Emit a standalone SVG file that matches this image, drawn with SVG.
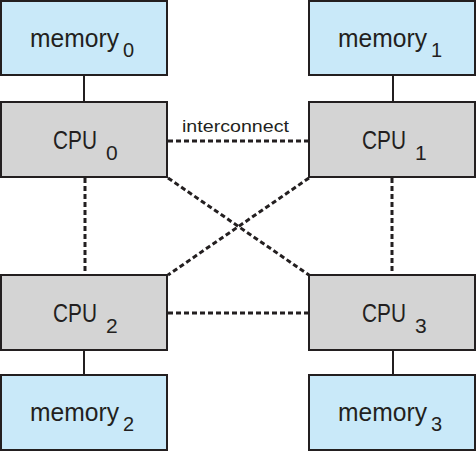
<svg xmlns="http://www.w3.org/2000/svg" width="476" height="451" viewBox="0 0 476 451">
<style>
.mem{fill:#c9e9f9;stroke:#231f20;stroke-width:2}
.cpu{fill:#d4d4d4;stroke:#231f20;stroke-width:2}
.lbl{font-family:"Liberation Sans",Arial,sans-serif;fill:#231f20}
.solid{stroke:#231f20;stroke-width:2;fill:none}
.dash{stroke:#231f20;stroke-width:3;stroke-dasharray:5 3;fill:none}
</style>
<rect width="476" height="451" fill="#ffffff"/>
<g id="connectors">
<line class="solid" x1="84" y1="75" x2="84" y2="102"/>
<line class="solid" x1="393" y1="75" x2="393" y2="102"/>
<line class="solid" x1="84" y1="350" x2="84" y2="375"/>
<line class="solid" x1="393" y1="350" x2="393" y2="375"/>
<line class="dash" x1="168" y1="141" x2="309" y2="141"/>
<line class="dash" x1="168" y1="313" x2="309" y2="313"/>
<line class="dash" x1="85" y1="178" x2="85" y2="275"/>
<line class="dash" x1="392" y1="178" x2="392" y2="275"/>
<line class="dash" x1="168" y1="178" x2="309" y2="275"/>
<line class="dash" x1="309" y1="178" x2="168" y2="275"/>
<text class="lbl" x="182" y="132" font-size="17" textLength="107" lengthAdjust="spacingAndGlyphs">interconnect</text>
</g>
<g id="memory0">
<rect class="mem" x="1" y="1" width="166" height="74"/>
<text class="lbl" x="30" y="47" font-size="25" textLength="89" lengthAdjust="spacingAndGlyphs">memory</text><text class="lbl" x="123" y="57" font-size="20">0</text>
</g>
<g id="memory1">
<rect class="mem" x="309" y="1" width="166" height="74"/>
<text class="lbl" x="338" y="47" font-size="25" textLength="89" lengthAdjust="spacingAndGlyphs">memory</text><text class="lbl" x="431" y="57" font-size="20">1</text>
</g>
<g id="cpu0">
<rect class="cpu" x="1" y="102" width="166" height="75"/>
<text class="lbl" x="53" y="149" font-size="25" textLength="44" lengthAdjust="spacingAndGlyphs">CPU</text><text class="lbl" x="106" y="160" font-size="21">0</text>
</g>
<g id="cpu1">
<rect class="cpu" x="309" y="102" width="166" height="75"/>
<text class="lbl" x="362" y="149" font-size="25" textLength="44" lengthAdjust="spacingAndGlyphs">CPU</text><text class="lbl" x="415" y="160" font-size="21">1</text>
</g>
<g id="cpu2">
<rect class="cpu" x="1" y="275" width="166" height="75"/>
<text class="lbl" x="53" y="322" font-size="25" textLength="44" lengthAdjust="spacingAndGlyphs">CPU</text><text class="lbl" x="106" y="333" font-size="21">2</text>
</g>
<g id="cpu3">
<rect class="cpu" x="309" y="275" width="166" height="75"/>
<text class="lbl" x="362" y="322" font-size="25" textLength="44" lengthAdjust="spacingAndGlyphs">CPU</text><text class="lbl" x="415" y="333" font-size="21">3</text>
</g>
<g id="memory2">
<rect class="mem" x="1" y="375" width="166" height="75"/>
<text class="lbl" x="30" y="421" font-size="25" textLength="89" lengthAdjust="spacingAndGlyphs">memory</text><text class="lbl" x="123" y="431" font-size="20">2</text>
</g>
<g id="memory3">
<rect class="mem" x="309" y="375" width="166" height="75"/>
<text class="lbl" x="338" y="421" font-size="25" textLength="89" lengthAdjust="spacingAndGlyphs">memory</text><text class="lbl" x="431" y="431" font-size="20">3</text>
</g>
</svg>
